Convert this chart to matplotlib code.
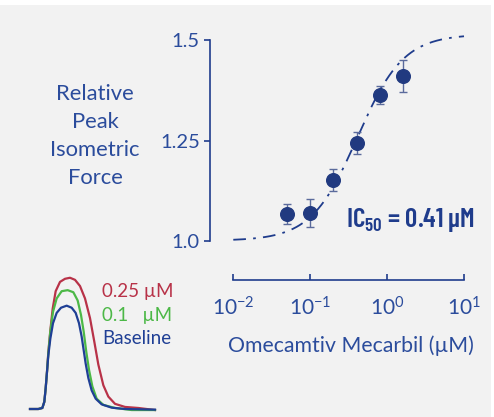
import numpy as np
import matplotlib
matplotlib.use("Agg")
import matplotlib.pyplot as plt
from matplotlib.patches import Rectangle

# ---------------- data ----------------
conc = [0.05, 0.1, 0.2, 0.41, 0.8, 1.6]          # µM
force = [1.066, 1.070, 1.151, 1.244, 1.363, 1.412]
err = [0.025, 0.035, 0.028, 0.028, 0.022, 0.040]

# Hill fit parameters
fit_bottom = 1.0
fit_top = 1.515
fit_ic50 = 0.41
fit_hill = 1.45

xticks = [0.01, 0.1, 1, 10]
xticklabels = [r'$\mathregular{10^{-2}}$', r'$\mathregular{10^{-1}}$',
               r'$\mathregular{10^{0}}$', r'$\mathregular{10^{1}}$']
yticks = [1.0, 1.25, 1.5]
yticklabels = ['1.0', '1.25', '1.5']

# inset force transients (time, normalized force)
t_base = [0, 12.5, 18.5, 21.5, 23.5, 25.5, 27.5, 30.5, 34.5, 40, 46.5, 55, 62.5, 68.5,
          73.5, 77.5, 80.5, 83.5, 87.5, 92.5, 98.5, 107.5, 122.5, 142.5, 187.5]
f_base = [0, 0, 0.01, 0.07, 0.20, 0.36, 0.52, 0.68, 0.83, 0.93, 0.98, 1.0, 0.98, 0.93,
          0.83, 0.70, 0.57, 0.44, 0.30, 0.18, 0.10, 0.045, 0.013, 0, -0.006]
t_01 = [0, 12.5, 18.5, 21.5, 23.5, 25.5, 27.5, 30.5, 34.5, 40, 47.5, 56.5, 65, 71.5,
        76.5, 80.5, 84.5, 88.5, 93.5, 100, 110, 127.5, 152.5, 187.5]
f_01 = [0, 0, 0.01, 0.07, 0.20, 0.36, 0.54, 0.75, 0.94, 1.07, 1.14, 1.15, 1.13, 1.05,
        0.91, 0.75, 0.55, 0.38, 0.22, 0.10, 0.04, 0.01, -0.01, -0.01]
t_025 = [0, 12.5, 18.5, 21.5, 23.5, 25.5, 27.5, 30.5, 34, 38.5, 45, 52.5, 60, 67.5, 75,
         82.5, 90, 96.5, 102.5, 110, 117.5, 127.5, 142.5, 162.5, 187.5]
f_025 = [0, 0, 0.01, 0.07, 0.20, 0.36, 0.55, 0.76, 0.97, 1.14, 1.23, 1.26, 1.27, 1.25, 1.19,
         1.07, 0.88, 0.65, 0.43, 0.23, 0.12, 0.05, 0.02, 0.01, -0.01]
inset_labels = ['0.25 µM', '0.1   µM', 'Baseline']

# ---------------- style ----------------
plt.rcParams['font.family'] = ['Lato', 'DejaVu Sans']
plt.rcParams['mathtext.fontset'] = 'custom'
plt.rcParams['mathtext.rm'] = 'Lato'
plt.rcParams['mathtext.bf'] = 'Barlow Condensed:semibold'

BG = '#f2f2f2'
NAVY = '#1f3c8c'
MARK = '#213a80'
TXT = '#2b4c9c'
RED = '#b83248'
GREEN = '#4cb847'
BLUE = '#1f3f95'

W, H = 494, 417
fig = plt.figure(figsize=(W / 100, H / 100), dpi=100)
fig.patch.set_facecolor('white')
fig.add_artist(Rectangle((0, 0), 491 / W, 412 / H, transform=fig.transFigure,
                         facecolor=BG, edgecolor='none', zorder=-10))

def px_axes(x0, y0, x1, y1):
    return [x0 / W, 1 - y1 / H, (x1 - x0) / W, (y1 - y0) / H]

ax = fig.add_axes(px_axes(233.3, 40.3, 464, 240.7))
ax.set_facecolor('none')
ax.set_xscale('log')
ax.set_xlim(0.01, 10)
ax.set_ylim(1.0, 1.5)

for s in ['top', 'right']:
    ax.spines[s].set_visible(False)
ax.spines['left'].set_position(('outward', 17))
ax.spines['bottom'].set_position(('outward', 28.5))
for s in ['left', 'bottom']:
    ax.spines[s].set_color(NAVY)
    ax.spines[s].set_linewidth(1.2)

ax.set_xticks(xticks)
ax.set_xticklabels(xticklabels)
ax.xaxis.set_minor_locator(matplotlib.ticker.NullLocator())
ax.set_yticks(yticks)
ax.set_yticklabels(yticklabels)
ax.tick_params(axis='x', direction='in', length=4.5, width=1.2, color=NAVY,
               labelcolor=TXT, labelsize=15, pad=11.5)
ax.tick_params(axis='y', direction='out', length=4, width=1.2, color=NAVY,
               labelcolor=TXT, labelsize=14.5, pad=3)
for lbl in ax.get_xticklabels():
    lbl.set_x(lbl.get_position()[0])

xc = np.logspace(-2, 1, 300)
yc = fit_bottom + (fit_top - fit_bottom) / (1 + (fit_ic50 / xc) ** fit_hill)
ax.plot(xc, yc, color=NAVY, lw=1.3, dashes=(7, 4, 1.5, 4), clip_on=False)

ax.errorbar(conc, force, yerr=err, fmt='none', ecolor='#5b6b9c', elinewidth=1.0,
            capsize=2.6, capthick=1.0, clip_on=False, zorder=3)
ax.plot(conc, force, 'o', color=MARK, ms=9.8, mec=MARK, clip_on=False, zorder=4)

fig.text(346 / W, 1 - 220 / H, r'IC$_{\mathbf{50}}$ = 0.41 µM', color='#1f3c8c',
         fontsize=19.5, ha='left', va='center', family='Barlow Condensed',
         fontweight='semibold')

fig.text(95 / W, 1 - 136 / H, 'Relative\nPeak\nIsometric\nForce', color=TXT,
         fontsize=15.8, ha='center', va='center', linespacing=1.5)
fig.text(351 / W, 1 - 346 / H, 'Omecamtiv Mecarbil (µM)', color=TXT,
         fontsize=15.3, ha='center', va='center')

# inset
axi = fig.add_axes(px_axes(25, 265, 165, 415))
axi.set_facecolor('none')
axi.axis('off')
axi.set_xlim(-7.5, 202.5)
axi.set_ylim(-0.058, 1.3935)
axi.plot(t_025, f_025, color=RED, lw=1.6)
axi.plot(t_01, f_01, color=GREEN, lw=1.6)
axi.plot(t_base, f_base, color=BLUE, lw=1.6)

for lab, col, yy in zip(inset_labels, [RED, GREEN, BLUE], [292, 315, 338]):
    fig.text(102 / W, 1 - yy / H, lab, color=col, fontsize=13.5, ha='left', va='center')

fig.savefig('out.png', dpi=100, facecolor=fig.get_facecolor())
